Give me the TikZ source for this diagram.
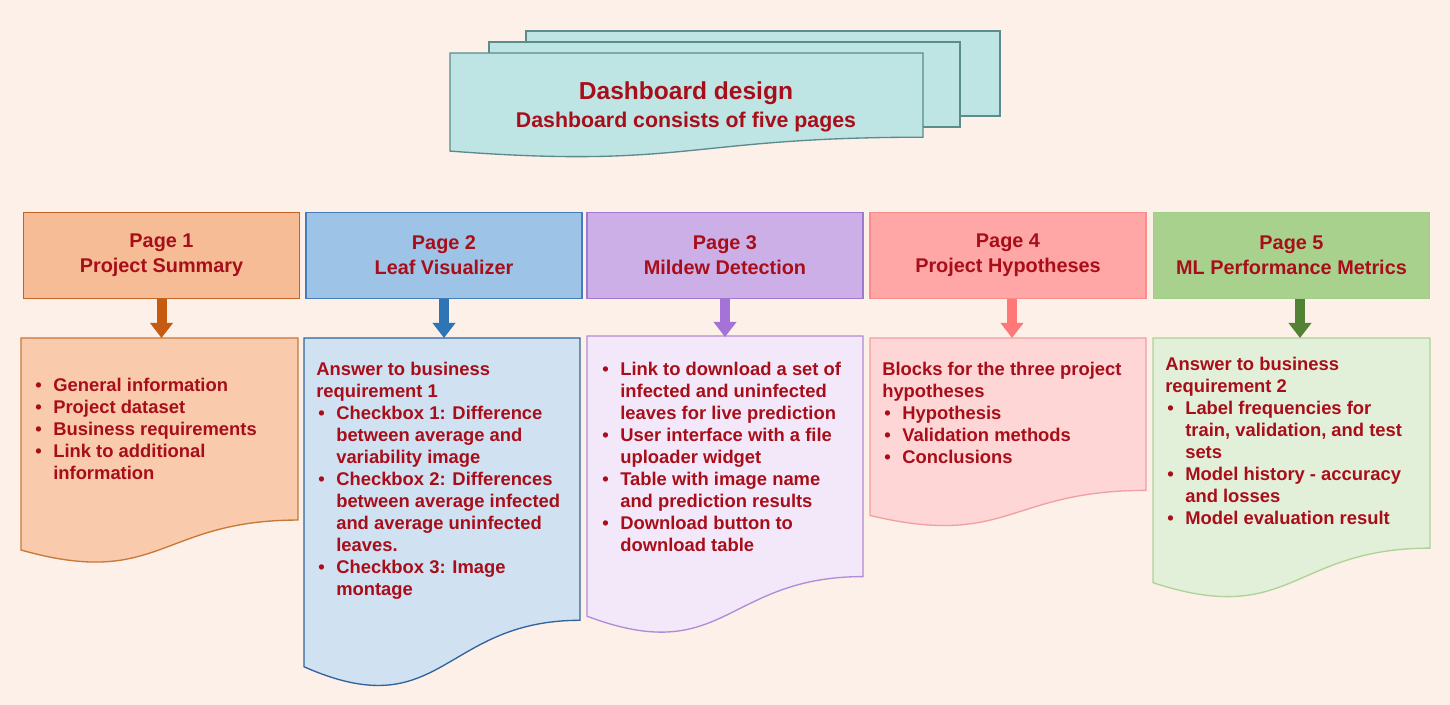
\documentclass[tikz,border=0pt]{standalone}
\usepackage{fontspec}
\setmainfont{Liberation Sans}
\usepackage{tikz}
\usetikzlibrary{arrows.meta,positioning}
\definecolor{BG}{RGB}{253,240,233}
\definecolor{Txt}{RGB}{168,14,26}
\definecolor{TFill}{RGB}{190,228,228}
\definecolor{TDraw}{RGB}{90,140,140}
\definecolor{HA}{RGB}{246,188,150}\definecolor{HAd}{RGB}{197,100,35}
\definecolor{DA}{RGB}{249,203,172}\definecolor{DAd}{RGB}{200,120,55}
\definecolor{AA}{RGB}{197,90,17}
\definecolor{HB}{RGB}{157,195,230}\definecolor{HBd}{RGB}{70,125,185}
\definecolor{DB}{RGB}{208,225,242}\definecolor{DBd}{RGB}{50,100,155}
\definecolor{AB}{RGB}{46,117,182}
\definecolor{HC}{RGB}{205,175,232}\definecolor{HCd}{RGB}{160,120,210}
\definecolor{DC}{RGB}{242,232,249}\definecolor{DCd}{RGB}{175,140,215}
\definecolor{AC}{RGB}{165,115,215}
\definecolor{HD}{RGB}{255,166,166}\definecolor{HDd}{RGB}{250,140,140}
\definecolor{DD}{RGB}{255,214,214}\definecolor{DDd}{RGB}{240,160,160}
\definecolor{AD}{RGB}{255,120,120}
\definecolor{HE}{RGB}{169,209,142}\definecolor{HEd}{RGB}{160,205,135}
\definecolor{DE}{RGB}{226,240,217}\definecolor{DEd}{RGB}{175,210,150}
\definecolor{AE}{RGB}{84,130,53}
\tikzset{
  head/.style 2 args={draw=#2,fill=#1,line width=1pt,minimum width=207pt,minimum height=64.5pt,
    inner sep=0pt,align=center,text=Txt,font=\fontsize{14.9}{18.75}\selectfont\bfseries},
  body/.style={anchor=north west,inner sep=0pt,align=left,text=Txt,
    font=\fontsize{13.8}{16.5}\selectfont\bfseries},
  down/.style={draw=#1,line width=7.5pt,-{Triangle[width=16.5pt,length=11.25pt]}}
}
\newcommand{\bl}{\makebox[15pt][l]{\hspace*{1.5pt}\textbullet}}
\newcommand{\ind}{\hspace*{15pt}}
\newcommand{\docpath}[4]{(#1,#2) -- (#1+#3,#2) -- (#1+#3,#2+0.802*#4)
  .. controls (#1+0.5*#3,#2+0.802*#4) and (#1+0.5*#3,#2+1.107*#4) .. (#1,#2+0.934*#4) -- cycle}
\begin{document}
\begin{tikzpicture}[x=0.75pt,y=-0.75pt]
\fill[BG] (0,0) rectangle (1450,705);
\useasboundingbox (0,0) rectangle (1450,705);

\draw[fill=TFill,draw=TDraw,line width=1pt] (526,31) rectangle (1000,116);
\draw[fill=TFill,draw=TDraw,line width=1pt] (489,42) rectangle (960,127);
\draw[fill=TFill,draw=TDraw,line width=1pt] \docpath{450}{53}{473}{105};
\node[align=center,text=Txt,font=\fontsize{18.4}{21}\selectfont\bfseries] (title) at (686,107)
  {Dashboard design\\ \fontsize{16}{21}\selectfont Dashboard consists of five pages};

\node[head={HA}{HAd}] (h1) at (161.5,255.5) {Page 1\\Project Summary};
\node[head={HB}{HBd}] (h2) at (444,255.5) {Page 2\\Leaf Visualizer};
\node[head={HC}{HCd}] (h3) at (725,255.5) {Page 3\\Mildew Detection};
\node[head={HD}{HDd}] (h4) at (1008,255.5) {Page 4\\Project Hypotheses};
\node[head={HE}{HEd}] (h5) at (1291.5,255.5) {Page 5\\ML Performance Metrics};

\draw[fill=DA,draw=DAd,line width=1pt] \docpath{21}{338}{277}{227};
\draw[fill=DB,draw=DBd,line width=1pt] \docpath{304}{338}{276}{352};
\draw[fill=DC,draw=DCd,line width=1pt] \docpath{587}{336}{276}{300};
\draw[fill=DD,draw=DDd,line width=1pt] \docpath{870}{338}{276}{190};
\draw[fill=DE,draw=DEd,line width=1pt] \docpath{1153}{338}{277}{262};

\coordinate (d1) at (161.5,338);
\coordinate (d2) at (444,338);
\coordinate (d3) at (725,337);
\coordinate (d4) at (1012,338);
\coordinate (d5) at (1300,338);

\draw[down=AA] (h1.south -| d1) -- (d1);
\draw[down=AB] (h2.south -| d2) -- (d2);
\draw[down=AC] (h3.south -| d3) -- (d3);
\draw[down=AD] (h4.south -| d4) -- (d4);
\draw[down=AE] (h5.south -| d5) -- (d5);

\node[body] (t1) at (33,378) {\bl General information\\ \bl Project dataset\\
  \bl Business requirements\\ \bl Link to additional\\ \ind information};
\node[body] (t2) at (316,362) {Answer to business\\ requirement 1\\
  \bl Checkbox 1: Difference\\ \ind between average and\\ \ind variability image\\
  \bl Checkbox 2: Differences\\ \ind between average infected\\ \ind and average uninfected\\ \ind leaves.\\
  \bl Checkbox 3: Image\\ \ind montage};
\node[body] (t3) at (600,362) {\bl Link to download a set of\\ \ind infected and uninfected\\
  \ind leaves for live prediction\\ \bl User interface with a file\\ \ind uploader widget\\
  \bl Table with image name\\ \ind and prediction results\\ \bl Download button to\\ \ind download table};
\node[body] (t4) at (882,362) {Blocks for the three project\\ hypotheses\\
  \bl Hypothesis\\ \bl Validation methods\\ \bl Conclusions};
\node[body] (t5) at (1165,357) {Answer to business\\ requirement 2\\
  \bl Label frequencies for\\ \ind train, validation, and test\\ \ind sets\\
  \bl Model history - accuracy\\ \ind and losses\\ \bl Model evaluation result};
\end{tikzpicture}
\end{document}
